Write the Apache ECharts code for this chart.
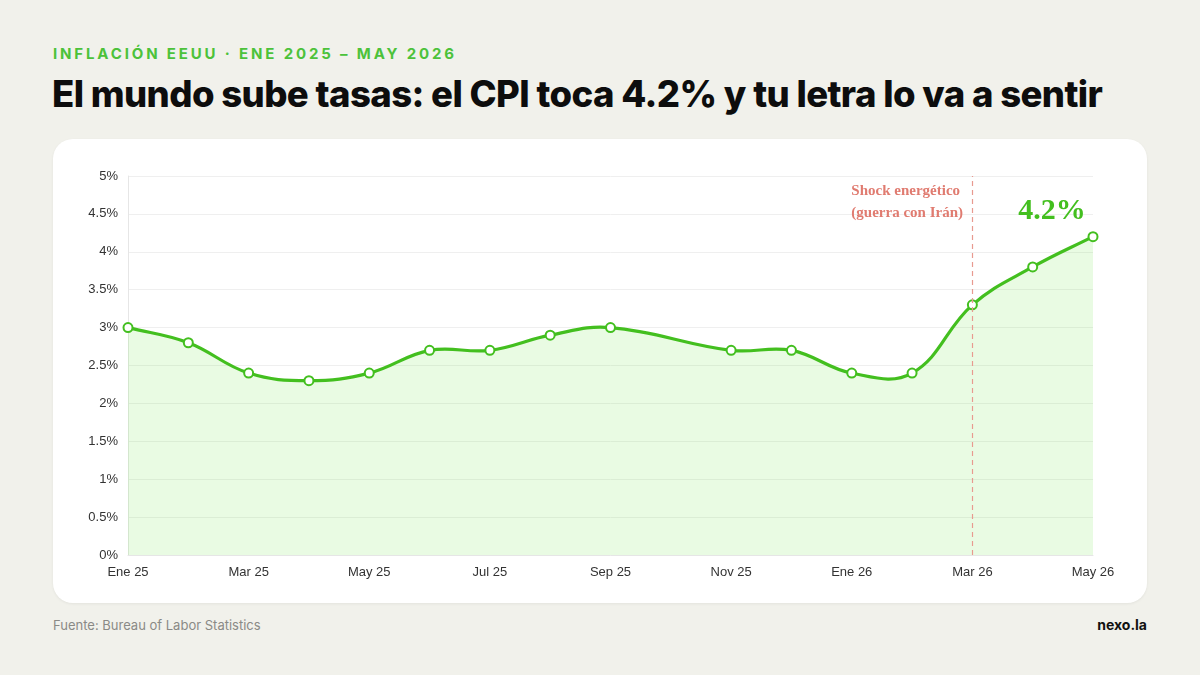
<!DOCTYPE html>
<html>
<head>
<meta charset="utf-8">
<script src="https://cdn.jsdelivr.net/npm/echarts@6/dist/echarts.min.js"></script>
<style>
  html, body { margin: 0; padding: 0; }
  body { width: 1200px; height: 675px; background: #f1f1eb; position: relative; overflow: hidden; font-family: Inter, "Liberation Sans", sans-serif; }
  .kicker { position: absolute; left: 53px; top: 44px; font-size: 15px; font-weight: 700; letter-spacing: 2.85px; color: #4cc23a; }
  .titulo { position: absolute; left: 52px; top: 72px; font-size: 36.5px; font-weight: 800; letter-spacing: -0.6px; color: #0d0d0d; }
  .card { position: absolute; left: 53px; top: 139px; width: 1094px; height: 464px; background: #fff; border-radius: 20px; box-shadow: 0 1px 3px rgba(0,0,0,0.06); }
  .fuente { position: absolute; left: 53px; top: 617px; font-size: 13px; color: #8a8a86; }
  .marca { position: absolute; right: 53px; top: 616px; font-size: 14px; font-weight: 700; color: #111; }
  #chart { position: absolute; left: 0; top: 0; width: 1200px; height: 675px; }
</style>
</head>
<body>
<div class="kicker">INFLACIÓN EEUU · ENE 2025 – MAY 2026</div>
<div class="titulo">El mundo sube tasas: el CPI toca 4.2% y tu letra lo va a sentir</div>
<div class="card"></div>
<div class="fuente">Fuente: Bureau of Labor Statistics</div>
<div class="marca">nexo.la</div>
<div id="chart"></div>
<script>
// meses (oct 25 sin dato)
var meses = ['Ene 25','Feb 25','Mar 25','Abr 25','May 25','Jun 25','Jul 25','Ago 25','Sep 25','Oct 25','Nov 25','Dic 25','Ene 26','Feb 26','Mar 26','Abr 26','May 26'];
var cpi = [3.0, 2.8, 2.4, 2.3, 2.4, 2.7, 2.7, 2.9, 3.0, null, 2.7, 2.7, 2.4, 2.4, 3.3, 3.8, 4.2];
var yTicks = { min: 0, max: 5, interval: 0.5 };
var mesShock = 'Mar 26';

var verde = '#43bf1f';
var tension = 0.4;

// puntos con dato, para la curva
var puntos = [];
cpi.forEach(function (v, i) {
  if (v !== null) puntos.push([i, v]);
});

// curva tipo spline (sin recorte de los puntos de control)
function curva(pts) {
  var cp = pts.map(function (p, i) {
    var prev = pts[i - 1] || p;
    var next = pts[i + 1] || p;
    var d01 = Math.hypot(p[0] - prev[0], p[1] - prev[1]);
    var d12 = Math.hypot(next[0] - p[0], next[1] - p[1]);
    var s01 = d01 / (d01 + d12) || 0;
    var s12 = d12 / (d01 + d12) || 0;
    var fa = tension * s01, fb = tension * s12;
    return {
      prev: [p[0] - fa * (next[0] - prev[0]), p[1] - fa * (next[1] - prev[1])],
      next: [p[0] + fb * (next[0] - prev[0]), p[1] + fb * (next[1] - prev[1])]
    };
  });
  var d = 'M' + pts[0][0] + ' ' + pts[0][1];
  for (var i = 1; i < pts.length; i++) {
    d += ' C' + cp[i - 1].next[0] + ' ' + cp[i - 1].next[1] + ' ' +
      cp[i].prev[0] + ' ' + cp[i].prev[1] + ' ' + pts[i][0] + ' ' + pts[i][1];
  }
  return d;
}

var chart = echarts.init(document.getElementById('chart'), null, { renderer: 'canvas' });

// el ultimo punto lleva la etiqueta grande
var datos = cpi.map(function (v, i) {
  if (i === cpi.length - 1) {
    return {
      value: v,
      label: {
        show: true,
        position: 'top',
        offset: [-41, 0],
        formatter: '{c}%',
        fontFamily: '"Liberation Serif", serif',
        fontWeight: 'bold',
        fontSize: 30,
        color: verde
      }
    };
  }
  return v;
});

var option = {
  backgroundColor: 'transparent',
  animation: false,
  grid: { left: 128, right: 107, top: 176, bottom: 120 },
  xAxis: {
    type: 'category',
    boundaryGap: false,
    data: meses,
    axisLine: { show: true, lineStyle: { color: '#e6e6e6' } },
    axisTick: { show: false },
    axisLabel: {
      interval: 1,
      margin: 11,
      color: '#333',
      fontSize: 13,
      fontFamily: '"Liberation Sans", Arial, sans-serif'
    },
    splitLine: { show: false }
  },
  yAxis: {
    type: 'value',
    min: yTicks.min,
    max: yTicks.max,
    interval: yTicks.interval,
    axisLine: { show: true, lineStyle: { color: '#e6e6e6' } },
    axisTick: { show: false },
    axisLabel: {
      formatter: '{value}%',
      margin: 10,
      color: '#333',
      fontSize: 13,
      fontFamily: '"Liberation Sans", Arial, sans-serif'
    },
    splitLine: { show: true, lineStyle: { color: '#efefef' } }
  },
  series: [
    {
      // linea y area
      type: 'custom',
      z: 1,
      silent: true,
      data: puntos,
      encode: { x: 0, y: 1 },
      renderItem: function (params, api) {
        if (params.dataIndexInside !== 0) return null;
        var pts = puntos.map(function (p) { return api.coord(p); });
        var base = api.coord([0, yTicks.min])[1];
        var linea = curva(pts);
        var ult = pts[pts.length - 1];
        var area = linea + ' L' + ult[0] + ' ' + base + ' L' + pts[0][0] + ' ' + base + ' Z';
        return {
          type: 'group',
          children: [
            {
              type: 'path',
              shape: { pathData: area },
              style: { fill: 'rgba(120, 230, 80, 0.16)', stroke: null }
            },
            {
              type: 'path',
              shape: { pathData: linea },
              style: { fill: null, stroke: verde, lineWidth: 3.2, lineJoin: 'round' }
            }
          ]
        };
      }
    },
    {
      // puntos
      type: 'line',
      z: 3,
      data: datos,
      connectNulls: true,
      symbol: 'circle',
      symbolSize: 9,
      showSymbol: true,
      lineStyle: { opacity: 0 },
      itemStyle: { color: '#fff', borderColor: verde, borderWidth: 2 },
      markLine: {
        silent: true,
        symbol: 'none',
        label: { show: false },
        lineStyle: { color: '#e89a90', type: [5, 4], width: 1.2 },
        data: [{ xAxis: mesShock }]
      }
    }
  ],
  graphic: [
    {
      type: 'text',
      right: 1200 - 963,
      top: 180,
      z: 10,
      style: {
        text: 'Shock energético\n(guerra con Irán)',
        align: 'right',
        fontFamily: '"Liberation Serif", serif',
        fontWeight: 'bold',
        fontSize: 15,
        lineHeight: 22,
        fill: '#e07b70'
      }
    }
  ]
};

chart.setOption(option);
</script>
</body>
</html>
